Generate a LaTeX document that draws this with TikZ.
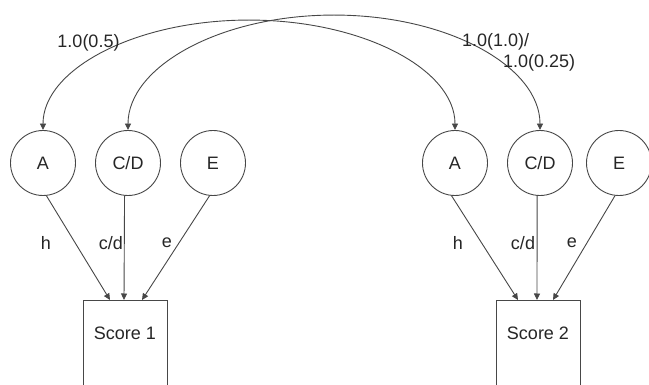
\documentclass[tikz,border=0pt]{standalone}
\usepackage{fontspec}
\setmainfont{Liberation Sans}
\usetikzlibrary{arrows.meta,calc}
\begin{document}
\begin{tikzpicture}[x=1pt,y=-1pt,
  lc/.style={draw=black!72, line width=0.9pt},
  tipend/.style={-{Triangle[length=6.5pt,width=6pt]}},
  tipboth/.style={{Triangle[length=6.5pt,width=6pt]}-{Triangle[length=6.5pt,width=6pt]}},
  latent/.style={circle, lc, minimum size=65pt, inner sep=0pt, font=\fontsize{18}{21}\selectfont, text=black!85},
  obs/.style={rectangle, lc, minimum width=84pt, minimum height=110pt, anchor=north, inner sep=0pt},
  lbl/.style={font=\fontsize{18}{21}\selectfont, text=black!85, inner sep=0pt}
]
\useasboundingbox (0,0) rectangle (649,385);
\clip (0,0) rectangle (649,385);

% latent variables
\node[latent] (A1) at (43,163) {A};
\node[latent] (C1) at (128,163) {C/D};
\node[latent] (E1) at (213,163) {E};
\node[latent] (A2) at (455,163) {A};
\node[latent] (C2) at (540,163) {C/D};
\node[latent] (E2) at (619,163) {E};

% observed scores
\node[obs, label={[lbl,anchor=center,yshift=-33pt]north:Score 1}] (S1) at (125,300) {};
\node[obs, label={[lbl,anchor=center,yshift=-33pt]north:Score 2}] (S2) at (538,300) {};

% paths to scores
\draw[lc, tipend] (A1.-84) -- ($(S1.north)+(-15,0)$);
\draw[lc, tipend] (C1.-96) -- ($(S1.north)+(-1,0)$);
\draw[lc, tipend] (E1.-96) -- ($(S1.north)+(17,0)$);
\draw[lc, tipend] (A2.-96) -- ($(S2.north)+(-20,0)$);
\draw[lc, tipend] (C2.-95) -- ($(S2.north)+(-1,0)$);
\draw[lc, tipend] (E2.-97) -- ($(S2.north)+(15,0)$);

% path labels
\node[lbl] (h1) at (46,243) {h};
\node[lbl] (cd1) at (111,243) {c/d};
\node[lbl] (e1) at (167,243) {e};
\node[lbl] (h2) at (458,243) {h};
\node[lbl] (cd2) at (523,243) {c/d};
\node[lbl] (e2) at (572,243) {e};

% correlations between twins
\draw[lc, tipboth] (A1.north) arc[start angle=180, end angle=0, x radius=206pt, y radius=110pt];
\draw[lc, tipboth] (C1.north) arc[start angle=180, end angle=0, x radius=206pt, y radius=115pt];

\node[lbl] (rA) at (88.5,43) {1.0(0.5)};
\node[lbl, align=left, anchor=west] (rC) at (462,52.5) {1.0(1.0)/\\\hspace{41pt}1.0(0.25)};
\end{tikzpicture}
\end{document}
